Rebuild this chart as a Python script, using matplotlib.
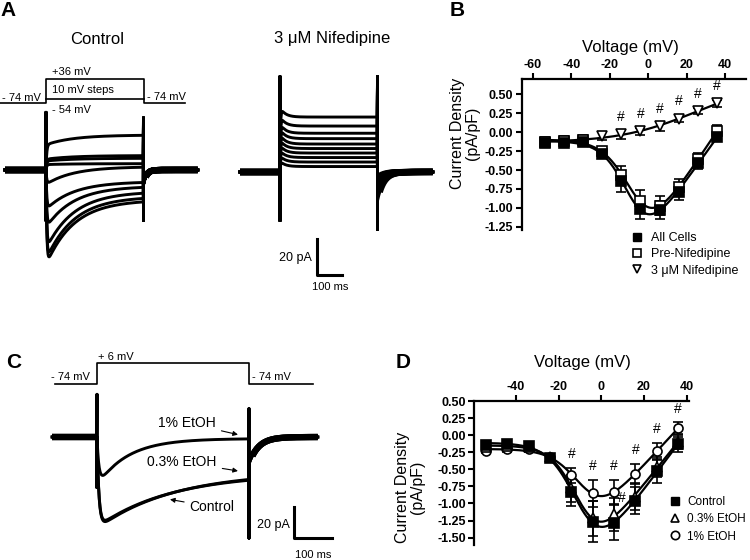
import numpy as np
import matplotlib
matplotlib.use("Agg")
import matplotlib.pyplot as plt
from matplotlib.lines import Line2D

plt.rcParams['font.family'] = ['Liberation Sans', 'DejaVu Sans']
plt.rcParams['axes.unicode_minus'] = False

# ---- I-V data (pA/pF) ----
volts = [-54, -44, -34, -24, -14, -4, 6, 16, 26, 36]

b_all = [-0.14, -0.14, -0.13, -0.29, -0.65, -1.01, -1.03, -0.79, -0.41, -0.06]
b_all_err = [0.05, 0.04, 0.03, 0.05, 0.14, 0.14, 0.12, 0.10, 0.07, 0.05]
b_pre = [-0.13, -0.12, -0.11, -0.25, -0.57, -0.91, -0.97, -0.72, -0.36, 0.02]
b_pre_err = [0.05, 0.04, 0.03, 0.05, 0.12, 0.15, 0.13, 0.10, 0.08, 0.07]
b_nif = [-0.13, -0.12, -0.10, -0.05, -0.03, 0.01, 0.08, 0.18, 0.28, 0.38]
b_nif_err = [0.04, 0.03, 0.03, 0.05, 0.06, 0.05, 0.06, 0.05, 0.04, 0.05]
b_sig = [-14, -4, 6, 16, 26, 36]

d_ctl = [-0.14, -0.13, -0.16, -0.34, -0.83, -1.27, -1.28, -0.96, -0.53, -0.13]
d_ctl_err = [0.03, 0.03, 0.03, 0.05, 0.21, 0.30, 0.25, 0.20, 0.17, 0.11]
d_03 = [-0.17, -0.16, -0.18, -0.32, -0.78, -1.22, -1.16, -0.90, -0.47, -0.10]
d_03_err = [0.03, 0.03, 0.03, 0.04, 0.20, 0.25, 0.24, 0.20, 0.15, 0.10]
d_1 = [-0.23, -0.21, -0.21, -0.32, -0.59, -0.85, -0.83, -0.57, -0.23, 0.10]
d_1_err = [0.03, 0.03, 0.03, 0.04, 0.11, 0.20, 0.18, 0.15, 0.12, 0.09]
d_sig_1 = [-14, -4, 6, 16, 26, 36]
d_sig_03 = [6]

# ---- current trace parameters (pA, ms) ----
# panel A control, one trace per voltage step
a_ctl_ss = [3.5, 6.5, 8.0, 1.8, -9.0, -16.7, -14.8, -12.0, -6.5, 19.4]
a_ctl_pk = [3.0, 5.0, 6.0, -8.0, -32.0, -53.0, -50.0, -44.0, -22.0, 14.0]
a_ctl_tau = 110
# panel A nifedipine
a_nif_ss = [3.0, 5.5, 8.0, 10.5, 13.0, 15.5, 18.5, 21.5, 25.5, 30.5]
a_nif_pk = [6.0, 9.0, 12.0, 15.0, 18.0, 21.0, 24.0, 27.0, 31.0, 36.0]
a_nif_tail = [-3, -4, -5, -6, -8, -9, -11, -12, -14, -16]
a_pulse = 390
# panel C, +6 mV step
c_names = ['Control', '0.3% EtOH', '1% EtOH']
c_ss = [-22.0, -23.0, -1.0]
c_pk = [-58.0, -57.0, -31.0]
c_tau = [200, 195, 80]
c_pulse = 400

W, H = 750, 560
fig = plt.figure(figsize=(7.5, 5.6), dpi=100)


def px_axes(left, top, right, bottom):
    return fig.add_axes([left / W, 1 - bottom / H, (right - left) / W, (bottom - top) / H])


def ftext(x, y, s, **kw):
    kw.setdefault('ha', 'center')
    kw.setdefault('va', 'center')
    fig.text(x / W, 1 - y / H, s, **kw)


def make_trace(t0, t1, T, ss, pk, tau_i, tau_a, tail0, tau_tail, cap_on, cap_off, dt=1.0):
    t_pre = np.arange(t0, 0, dt)
    t_on = np.arange(0, T, dt)
    t_post = np.arange(T, t1, dt)
    i_on = ss + (pk - ss) * np.exp(-t_on / tau_i) - pk * np.exp(-t_on / tau_a)
    i_post = tail0 * np.exp(-(t_post - T) / tau_tail)
    t = np.concatenate([t_pre, [0, 0], t_on, [T, T], t_post])
    i = np.concatenate([np.zeros_like(t_pre), cap_on, i_on, cap_off, i_post])
    return t, i


def draw_trace(ax, t, i, T):
    ax.plot(t, i, color='k', lw=2.1)
    ax.plot(t[t < 0], i[t < 0], color='k', lw=4.5, solid_capstyle='butt')
    post = t > T + 8
    ax.plot(t[post], i[post], color='k', lw=4.5, solid_capstyle='butt')


def boltz_fit(v, i):
    v = np.asarray(v, float)
    i = np.asarray(i, float)
    best = (np.inf, None)
    for vh in np.arange(-40, 20.5, 0.5):
        for k in np.arange(2, 20.5, 0.5):
            s = 1 / (1 + np.exp((vh - v) / k))
            A = np.column_stack([np.ones_like(v), s * v, s])
            coef = np.linalg.lstsq(A, i, rcond=None)[0]
            err = np.sum((A @ coef - i) ** 2)
            if err < best[0]:
                best = (err, (vh, k, coef))
    vh, k, coef = best[1]

    def f(x):
        s = 1 / (1 + np.exp((vh - x) / k))
        return coef[0] + coef[1] * s * x + coef[2] * s
    return f


# ================= Panel A =================
ftext(8, 10, 'A', fontsize=15, fontweight='bold')
ftext(97, 39, 'Control', fontsize=12)
ftext(332, 39, '3 \u03bcM Nifedipine', fontsize=12)

# protocol (schematic levels: holding 0, top step 1)
axP = px_axes(0, 65, 200, 115)
axP.set_xlim(-184, 616)
axP.set_ylim(-0.5, 38 / 24)
axP.axis('off')
axP.plot([-184, 0, 0, a_pulse, a_pulse, 556], [0, 0, 1, 1, 0, 0], color='k', lw=1.2)
axP.plot([0, a_pulse], [4 / 24, 4 / 24], color='k', lw=1.2)
ftext(52, 72, '+36 mV', fontsize=8, ha='left')
ftext(52, 90, '10 mV steps', fontsize=8, ha='left')
ftext(52, 110, '- 54 mV', fontsize=8, ha='left')
ftext(2, 98, '- 74 mV', fontsize=8, ha='left')
ftext(147, 97, '- 74 mV', fontsize=8, ha='left')

axA1 = px_axes(0, 60, 200, 290)
axA1.set_xlim(-184, 616)
axA1.set_ylim(-66.7, 61.1)
axA1.axis('off')
for ss, pk in zip(a_ctl_ss, a_ctl_pk):
    t, i = make_trace(-164, 608, a_pulse, ss, pk, a_ctl_tau, 3.0, -8, 12, [32, -28], [29, -28])
    draw_trace(axA1, t, i, a_pulse)

axA2 = px_axes(235, 60, 440, 290)
axA2.set_xlim(-180, 640)
axA2.set_ylim(-65.6, 62.2)
axA2.axis('off')
for ss, pk, tl in zip(a_nif_ss, a_nif_pk, a_nif_tail):
    t, i = make_trace(-160, 612, a_pulse, ss, pk, 20, 2.0, tl, 25, [53, -27], [53, -32])
    draw_trace(axA2, t, i, a_pulse)
# scale bar: 20 pA / 100 ms
axA2.plot([148, 148, 248], [-37.2, -57.2, -57.2], color='k', lw=2.2, clip_on=False)
ftext(312, 258, '20 pA', fontsize=9, ha='right')
ftext(330, 287, '100 ms', fontsize=8)

# ================= Panel C =================
ftext(14, 362, 'C', fontsize=15, fontweight='bold')
axPC = px_axes(50, 350, 320, 395)
axPC.set_xlim((50 - 97) / 0.38, (320 - 97) / 0.38)
axPC.set_ylim(-11 / 21, 34 / 21)
axPC.axis('off')
axPC.plot([-110, 0, 0, c_pulse, c_pulse, 568], [0, 0, 1, 1, 0, 0], color='k', lw=1.2)
ftext(98, 357, '+ 6 mV', fontsize=8, ha='left')
ftext(90, 377, '- 74 mV', fontsize=8, ha='right')
ftext(252, 377, '- 74 mV', fontsize=8, ha='left')

axC = px_axes(50, 390, 340, 560)
axC.set_xlim((50 - 97) / 0.38, (340 - 97) / 0.38)
axC.set_ylim((437 - 560) / 1.58, (437 - 390) / 1.58)
axC.axis('off')
for ss, pk, tau in zip(c_ss, c_pk, c_tau):
    t, i = make_trace(-118, 582, c_pulse, ss, pk, tau, 5.0, -17, 25, [27, -32], [18, -64])
    draw_trace(axC, t, i, c_pulse)
axC.plot([518, 518, 618], [-44.3, -63.9, -63.9], color='k', lw=2.2, clip_on=False)
ftext(290, 525, '20 pA', fontsize=9, ha='right')
ftext(313, 555, '100 ms', fontsize=8)

arrow = dict(arrowstyle='-|>', color='k', lw=0.8, mutation_scale=7, shrinkA=2, shrinkB=0)
axC.annotate('1% EtOH', xy=(371, 1.5), xytext=(237, 8.9), fontsize=10,
             ha='center', va='center', arrowprops=arrow)
axC.annotate('0.3% EtOH', xy=(371, -21.5), xytext=(224, -15.8), fontsize=10,
             ha='center', va='center', arrowprops=arrow)
axC.annotate('Control', xy=(192, -39.5), xytext=(303, -44.3), fontsize=10,
             ha='center', va='center', arrowprops=arrow)


# ================= I-V axes =================
def style_iv(ax, xticks, yticks):
    ax.xaxis.tick_top()
    ax.xaxis.set_label_position('top')
    for sp in ['bottom', 'right']:
        ax.spines[sp].set_visible(False)
    for sp in ['top', 'left']:
        ax.spines[sp].set_linewidth(1.6)
    ax.set_xticks(xticks)
    ax.set_yticks(yticks)
    ax.set_yticklabels(['%.2f' % y for y in yticks])
    ax.tick_params(direction='out', length=4, width=1.5, labelsize=9, pad=2)
    for lab in ax.get_xticklabels() + ax.get_yticklabels():
        lab.set_fontweight('bold')
    ax.patch.set_alpha(0)


def iv_series(ax, v, y, e, marker, filled, f):
    vf = np.linspace(v[0], v[-1], 300)
    ax.plot(vf, f(vf), color='k', lw=1.6, zorder=2)
    ax.errorbar(v, y, yerr=e, fmt=marker, color='k', mfc='k' if filled else 'white',
                mec='k', mew=1.2, ms=6.5, elinewidth=1.2, capsize=3.5, capthick=1.2, zorder=3)


ftext(457, 10, 'B', fontsize=15, fontweight='bold')
axB = px_axes(521.5, 79.2, 746, 229.8)
axB.set_xlim(-66, 51)
axB.set_ylim(-1.29, 0.70)
style_iv(axB, [-60, -40, -20, 0, 20, 40], [-1.25, -1.0, -0.75, -0.5, -0.25, 0.0, 0.25, 0.5])
iv_series(axB, volts, b_nif, b_nif_err, 'v', False, boltz_fit(volts, b_nif))
iv_series(axB, volts, b_pre, b_pre_err, 's', False, boltz_fit(volts, b_pre))
iv_series(axB, volts, b_all, b_all_err, 's', True, boltz_fit(volts, b_all))
for v in b_sig:
    k = volts.index(v)
    axB.text(v, b_nif[k] + 0.23, '#', fontsize=10, ha='center', va='center')
axB.set_xlabel('Voltage (mV)', fontsize=12, va='center')
axB.xaxis.set_label_coords((630 - 521.5) / 224.5, 1 + 32 / 150.6)
axB.set_ylabel('Current Density\n(pA/pF)', fontsize=11.5, va='center', ha='center', linespacing=1.0)
axB.yaxis.set_label_coords((465 - 521.5) / 224.5, (229.8 - 133) / 150.6)
hB = [Line2D([], [], ls='none', marker='s', color='k', mfc='k', ms=6),
      Line2D([], [], ls='none', marker='s', color='k', mfc='white', mew=1.2, ms=6),
      Line2D([], [], ls='none', marker='v', color='k', mfc='white', mew=1.2, ms=6)]
axB.legend(hB, ['All Cells', 'Pre-Nifedipine', '3 \u03bcM Nifedipine'], loc='upper left',
           bbox_to_anchor=(631 / W, 1 - 232 / H), bbox_transform=fig.transFigure,
           frameon=False, fontsize=9, handlelength=1.0, handletextpad=0.6,
           labelspacing=0.35, borderpad=0, borderaxespad=0)

ftext(403, 362, 'D', fontsize=15, fontweight='bold')
axD = px_axes(474.4, 401, 688.8, 545.1)
axD.set_xlim(-59.5, 41)
axD.set_ylim(-1.61, 0.50)
style_iv(axD, [-40, -20, 0, 20, 40], [-1.5, -1.25, -1.0, -0.75, -0.5, -0.25, 0.0, 0.25, 0.5])
iv_series(axD, volts, d_1, d_1_err, 'o', False, boltz_fit(volts, d_1))
iv_series(axD, volts, d_03, d_03_err, '^', False, boltz_fit(volts, d_03))
iv_series(axD, volts, d_ctl, d_ctl_err, 's', True, boltz_fit(volts, d_ctl))
for v in d_sig_1:
    k = volts.index(v)
    axD.text(v, d_1[k] + d_1_err[k] + 0.2, '#', fontsize=10, ha='center', va='center')
for v in d_sig_03:
    k = volts.index(v)
    axD.text(v + 3.5, d_03[k] + d_03_err[k], '#', fontsize=10, ha='center', va='center')
axD.set_xlabel('Voltage (mV)', fontsize=12, va='center')
axD.xaxis.set_label_coords((582 - 474.4) / 214.4, 1 + 38 / 144.1)
axD.set_ylabel('Current Density\n(pA/pF)', fontsize=11.5, va='center', ha='center', linespacing=1.0)
axD.yaxis.set_label_coords((410 - 474.4) / 214.4, (545.1 - 487) / 144.1)
hD = [Line2D([], [], ls='none', marker='s', color='k', mfc='k', ms=6),
      Line2D([], [], ls='none', marker='^', color='k', mfc='white', mew=1.2, ms=6),
      Line2D([], [], ls='none', marker='o', color='k', mfc='white', mew=1.2, ms=6)]
axD.legend(hD, ['Control', '0.3% EtOH', '1% EtOH'], loc='upper left',
           bbox_to_anchor=(669 / W, 1 - 496 / H), bbox_transform=fig.transFigure,
           frameon=False, fontsize=8.5, handlelength=1.0, handletextpad=0.55,
           labelspacing=0.45, borderpad=0, borderaxespad=0)

fig.savefig('out.png', dpi=100)
